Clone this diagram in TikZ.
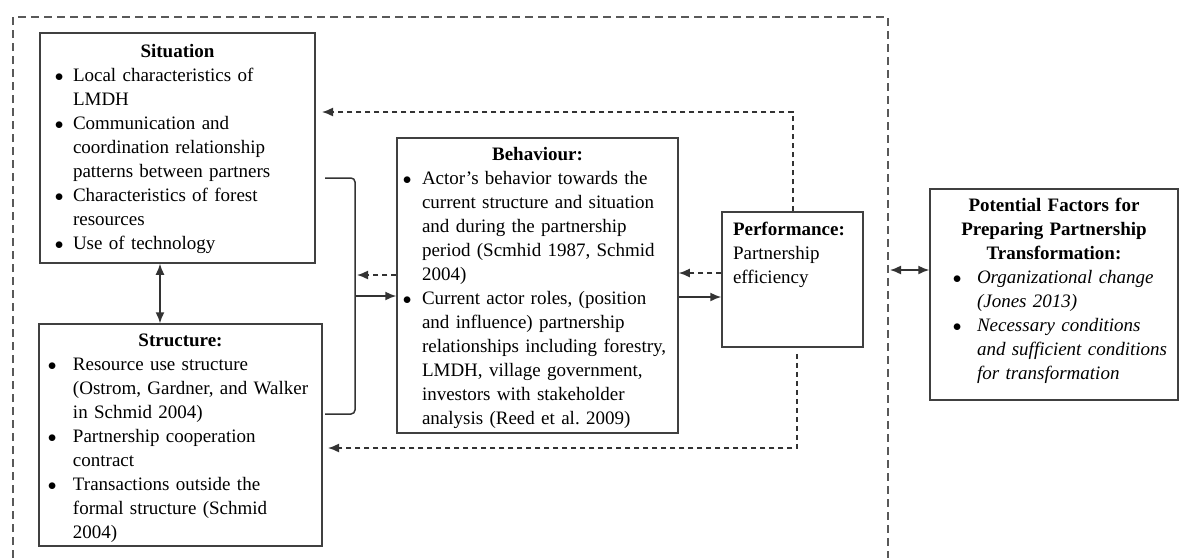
\documentclass[tikz,border=0pt]{standalone}
\usepackage{fontspec}
\setmainfont{Liberation Serif}
\usepackage{enumitem}
\setlist[itemize]{label={$\bullet$}, itemsep=0pt, parsep=0pt, topsep=0pt, partopsep=0pt}
\usetikzlibrary{arrows.meta}
\usetikzlibrary{positioning}

\begin{document}
\begin{tikzpicture}
[every node/.style={inner sep=0pt}, >={Latex[length=11pt, width=9pt]},
 box/.style={rectangle, draw=black!75, line width=1.5pt},
 boxtext/.style={align=left, font=\fontsize{19}{24}\selectfont},
 link/.style={line width=1.5pt, draw=black!80},
 back/.style={line width=1.5pt, draw=black!80, dash pattern=on 5pt off 4pt}]
\useasboundingbox (0pt, 0pt) rectangle (1181pt, -558pt);
% outer frame
\draw [line width=2pt, color=black!65, dash pattern=on 8pt off 5pt] (13pt, -558pt) -- (13pt, -17pt) -- (888pt, -17pt) -- (888pt, -558pt);
% boxes
\node (sit) [box, minimum width=275pt, minimum height=230pt] at (177.5pt, -148pt) {};
\node (str) [box, minimum width=283pt, minimum height=222pt] at (180.5pt, -435pt) {};
\node (beh) [box, minimum width=281pt, minimum height=295pt] at (537.5pt, -285.5pt) {};
\node (perf) [box, minimum width=141pt, minimum height=135pt] at (792.5pt, -279.5pt) {};
\node (pot) [box, minimum width=248pt, minimum height=211pt] at (1054pt, -294.5pt) {};
% box texts
\node (sittext) [boxtext, text width=263pt, below=12pt of sit.north] {{\centering\bfseries Situation\par}
\begin{itemize}[leftmargin=27pt, labelsep=9.5pt]
\item Local characteristics of\newline LMDH
\item Communication and\newline coordination relationship\newline patterns between partners
\item Characteristics of forest\newline resources
\item Use of technology
\end{itemize}};
\node (strtext) [boxtext, text width=271pt, below=10pt of str.north] {{\centering\bfseries Structure:\par}
\begin{itemize}[leftmargin=28pt, labelsep=16.5pt]
\item Resource use structure\newline (Ostrom, Gardner, and Walker\newline in Schmid 2004)
\item Partnership cooperation\newline contract
\item Transactions outside the\newline formal structure (Schmid\newline 2004)
\end{itemize}};
\node (behtext) [boxtext, text width=269pt, below=10pt of beh.north] {{\centering\bfseries Behaviour:\par}
\begin{itemize}[leftmargin=19pt, labelsep=10.5pt]
\item Actor's behavior towards the\newline current structure and situation\newline and during the partnership\newline period (Scmhid 1987, Schmid\newline 2004)
\item Current actor roles, (position\newline and influence) partnership\newline relationships including forestry,\newline LMDH, village government,\newline investors with stakeholder\newline analysis (Reed et al.\ 2009)
\end{itemize}};
\node (perftext) [boxtext, text width=119pt, below=11pt of perf.north] {\textbf{Performance:}\\ Partnership\\ efficiency};
\node (pottext) [boxtext, text width=236pt, below=10pt of pot.north] {{\centering\bfseries Potential Factors for\\ Preparing Partnership\\ Transformation:\par}
\begin{itemize}[leftmargin=41pt, labelsep=15.5pt]
\item \textit{Organizational change\newline (Jones 2013)}
\item \textit{Necessary conditions\newline and sufficient conditions\newline for transformation}
\end{itemize}};
% free ends
\coordinate (sitfoot) at (325pt, -178pt);
\coordinate (strfoot) at (325pt, -414pt);
\coordinate (brace) at (355pt, -296pt);
\coordinate (backin) at (357pt, -275pt);
\coordinate (topback) at (322pt, -112pt);
\coordinate (botback) at (328pt, -448pt);
\coordinate (frameedge) at (890pt, -270pt);
% connectors
\draw [link, <->] ([xshift=-17.5pt]sit.south) -- ([xshift=-17.5pt]sit.south |- str.north);
\draw [link, rounded corners=4pt] (sitfoot) -- ++(30pt, 0pt) |- (strfoot);
\draw [link, ->] (brace) -- (brace -| beh.west);
\draw [back, ->] (backin -| beh.west) -- (backin);
\draw [link, ->] ([yshift=-11.5pt]beh.east) -- ([yshift=-11.5pt]beh.east -| perf.west);
\draw [back, ->] ([yshift=12.5pt]beh.east -| perf.west) -- ([yshift=12.5pt]beh.east);
\draw [back, ->] ([xshift=0.5pt]perf.north) |- (topback);
\draw [back, ->] ([xshift=4.5pt, yshift=-6pt]perf.south) |- (botback);
\draw [link, <->] (frameedge) -- (frameedge -| pot.west);
\end{tikzpicture}
\end{document}
